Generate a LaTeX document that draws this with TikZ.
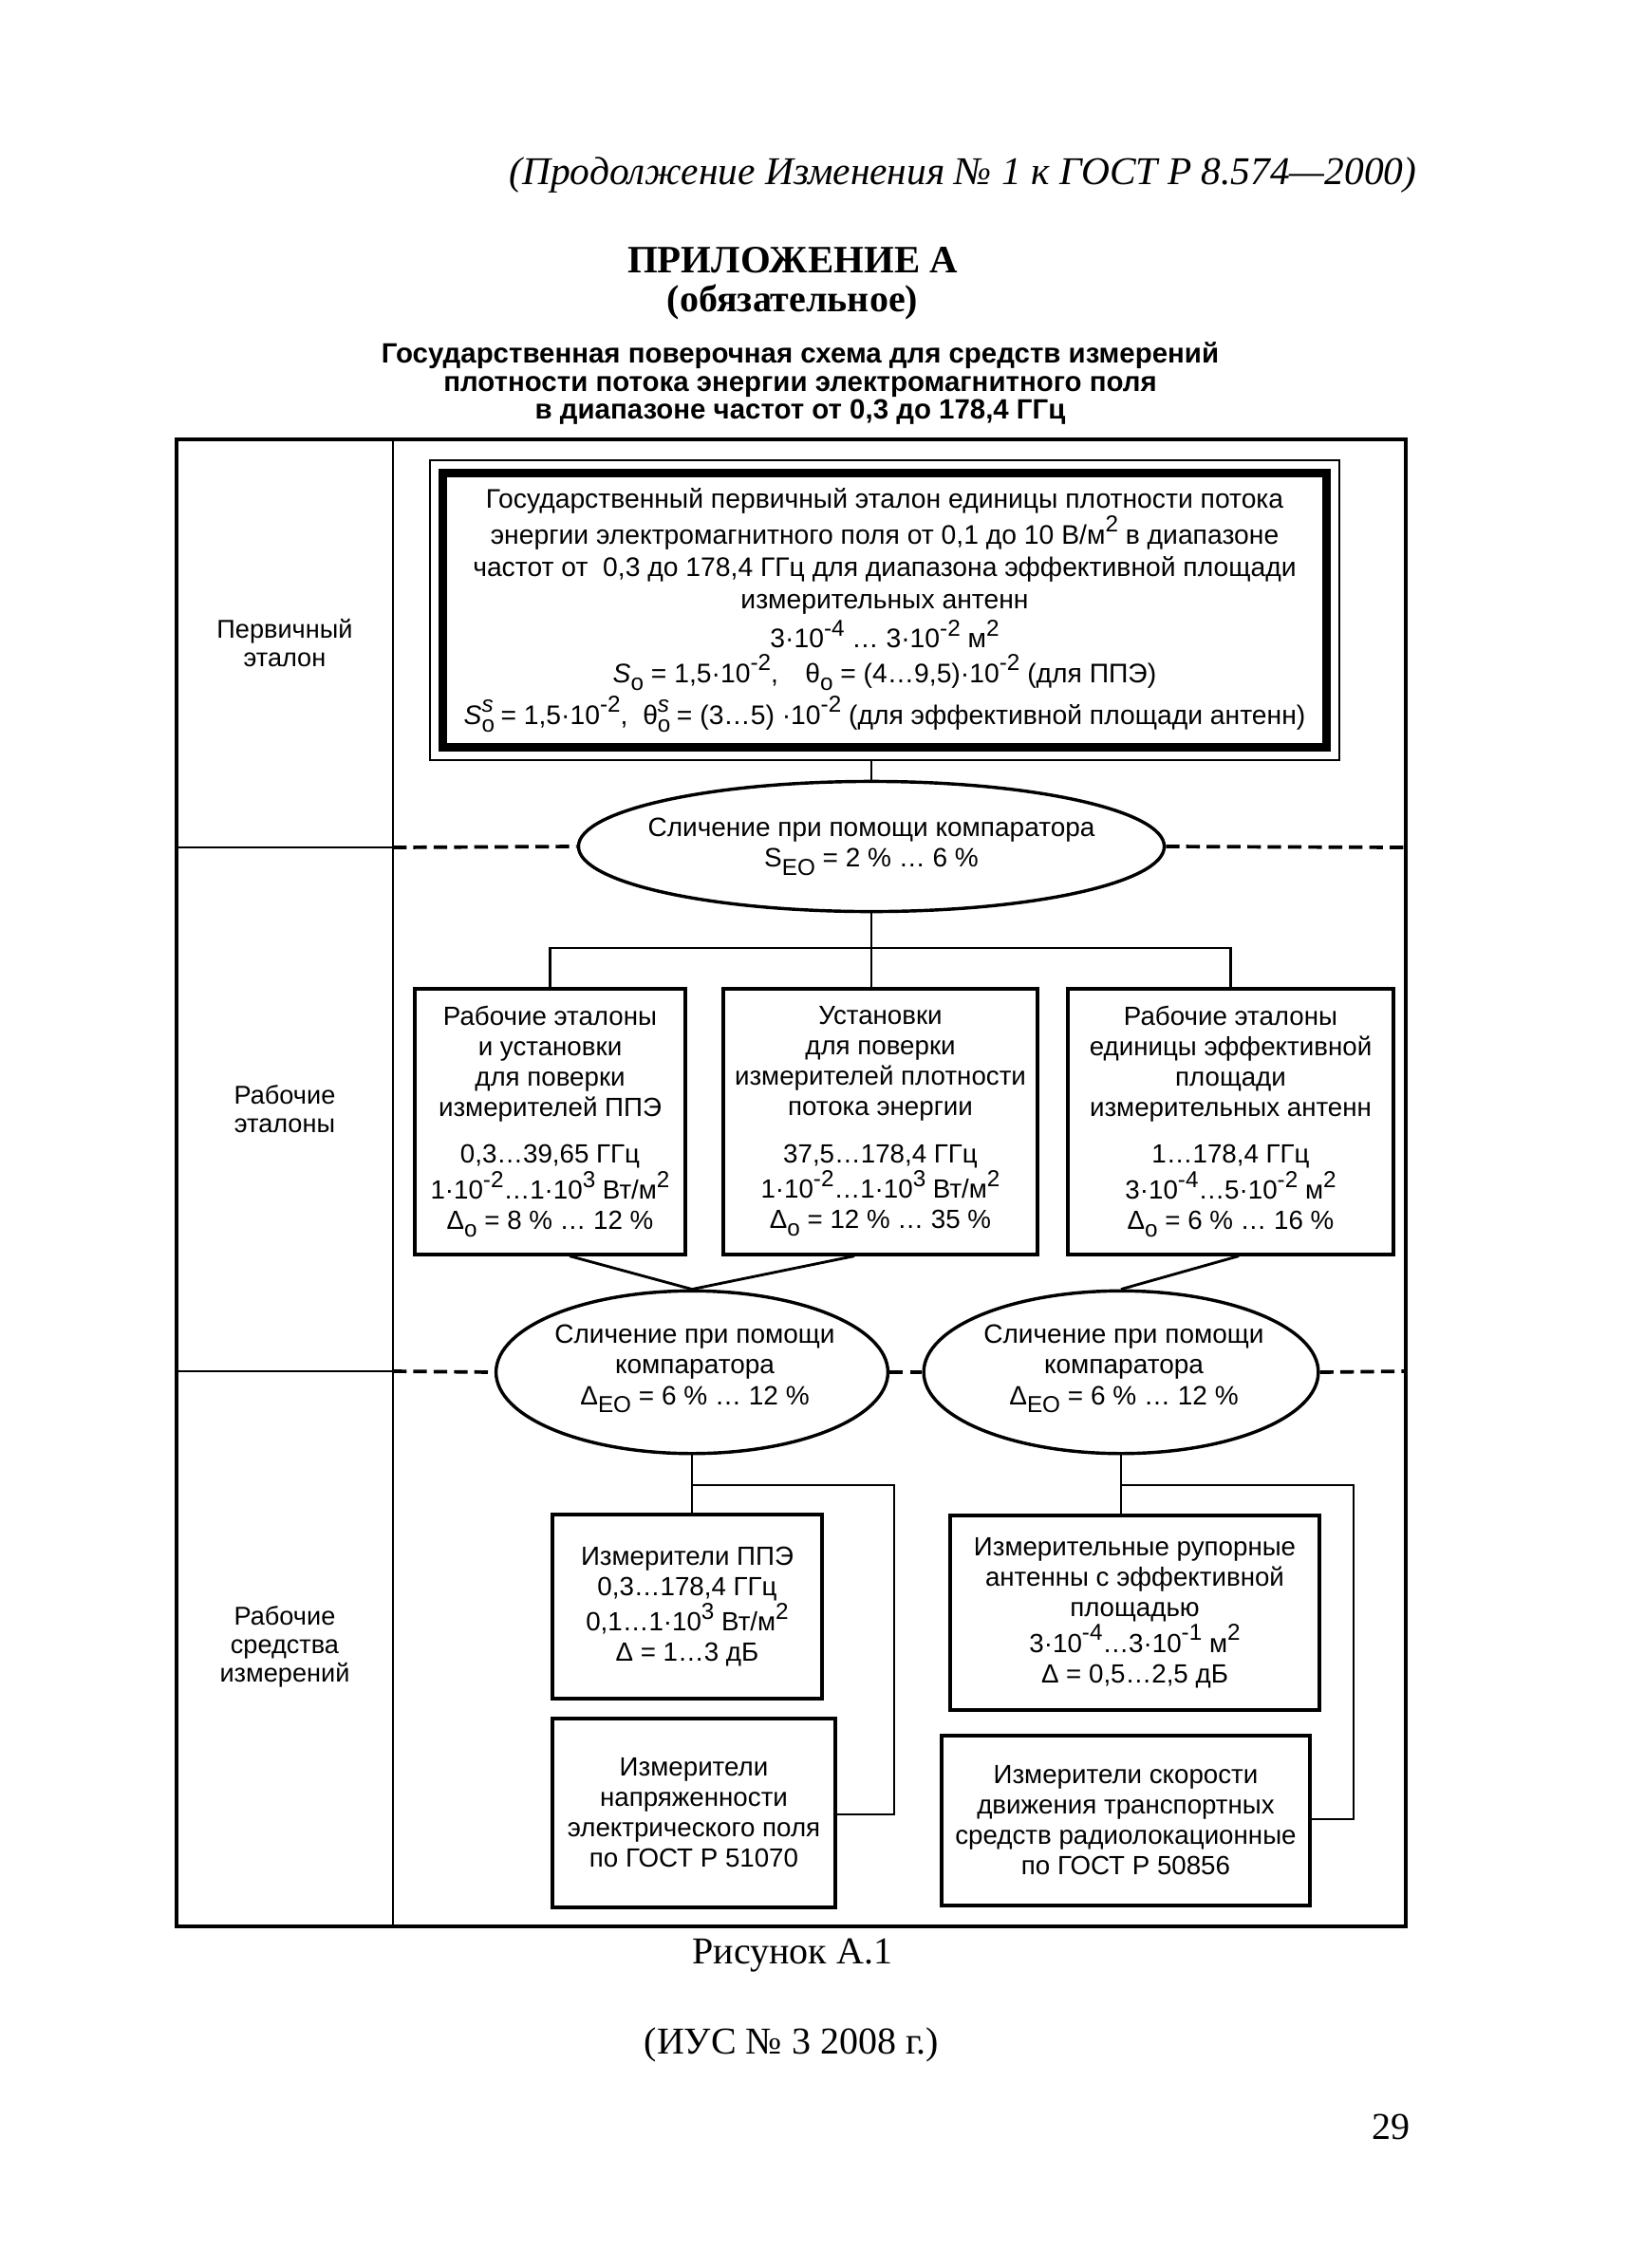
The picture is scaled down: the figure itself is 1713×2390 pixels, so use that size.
\documentclass[tikz,border=0pt]{standalone}
\usepackage{fontspec}
\setmainfont{Liberation Serif}
\setsansfont{Liberation Sans}
\usetikzlibrary{shapes.geometric,calc}

\newcommand\supr[1]{\raisebox{0.85ex}{\fontsize{8.5}{9}\selectfont #1}}
\newcommand\subr[1]{\raisebox{-0.55ex}{\fontsize{8.5}{9}\selectfont #1}}
\newcommand\subsupr[2]{\rlap{\subr{#1}}\supr{#2}}
\newcommand\bxfont{\sffamily\fontsize{9.7}{11.2}\selectfont}

\begin{document}
\begin{tikzpicture}[x=0.35pt,y=-0.35pt,
  box/.style={draw,line width=1.1pt,rectangle,inner sep=0pt,align=center,font=\bxfont},
  oval/.style={draw,line width=1.2pt,ellipse,inner sep=0pt},
  ovaltext/.style={align=center,inner sep=0pt,font=\sffamily\fontsize{9.8}{11.4}\selectfont},
  conn/.style={line width=1pt},
  dashsep/.style={line width=1.3pt,dash pattern=on 5pt off 2.5pt},
  solsep/.style={line width=0.9pt},
  frame/.style={line width=1.4pt},
  lbl/.style={align=center,font=\sffamily\fontsize{9.5}{10.5}\selectfont,inner sep=0pt},
  sertext/.style={font=\fontsize{14}{16}\selectfont,inner sep=0pt}]

\useasboundingbox (0,0) rectangle (1713,2390);

% heading texts
\node[sertext,font=\fontsize{14.5}{16}\selectfont,anchor=east] (hdr) at (1493,185) {\itshape (Продолжение Изменения № 1 к ГОСТ Р 8.574—2000)};
\node[sertext,font=\fontsize{14.3}{16}\selectfont] (ttl) at (835,274) {\bfseries ПРИЛОЖЕНИЕ А};
\node[sertext] (obl) at (835,318) {\bfseries (обязательное)};
\node[align=center,inner sep=0pt,font=\sffamily\bfseries\fontsize{10.3}{10.3}\selectfont] (sub) at (843,404)
  {Государственная поверочная схема для средств измерений\\
   плотности потока энергии электромагнитного поля\\
   в диапазоне частот от 0,3 до 178,4 ГГц};

% frame
\coordinate (fTL) at (186,463);
\coordinate (fBR) at (1481,2030);
\coordinate (cT) at (414,463);
\coordinate (cB) at (414,2030);
\draw[frame] (fTL) rectangle (fBR);
\draw[solsep] (cT) -- (cB);

\coordinate (d1L) at (186,893);
\coordinate (d1M) at (414,893);
\coordinate (d1R) at (1481,893);
\coordinate (d2L) at (186,1445);
\coordinate (d2M) at (414,1445);
\coordinate (d2R) at (1481,1445);

% left column labels
\node[lbl] (l1) at (300,678) {Первичный\\эталон};
\node[lbl] (l2) at (300,1169) {Рабочие\\эталоны};
\node[lbl] (l3) at (300,1735) {Рабочие\\средства\\измерений};

% primary standard
\node[box,line width=1pt,minimum width=335.3pt,minimum height=110.6pt,
      font=\sffamily\fontsize{9.9}{11.9}\selectfont] (P) at (932,643)
  {Государственный первичный эталон единицы плотности потока\\
   энергии электромагнитного поля от 0,1 до 10 В/м\supr{2} в диапазоне\\
   частот от \ 0,3 до 178,4 ГГц для диапазона эффективной площади\\
   измерительных антенн\\[1pt]
   3·10\supr{-4} … 3·10\supr{-2} м\supr{2}\\[1pt]
   {\itshape S}\subr{о} = 1,5·10\supr{-2},\quad θ\subr{о} = (4…9,5)·10\supr{-2} (для ППЭ)\\[1pt]
   {\itshape S}\subsupr{о}{\itshape s} = 1,5·10\supr{-2}, \ θ\subsupr{о}{\itshape s} = (3…5) ·10\supr{-2} (для эффективной площади антенн)};
\draw[line width=3.2pt] ([xshift=5.1pt,yshift=-5.1pt]P.north west) rectangle ([xshift=-5.1pt,yshift=5.1pt]P.south east);

% first comparator
\node[oval,minimum width=216pt,minimum height=48pt] (E1) at (918,892) {};
\node[ovaltext] (E1t) at (E1.center) {Сличение при помощи компаратора\\S\subr{EO} = 2 \% … 6 \%};

% working standards
\node[box,minimum width=99.75pt,minimum height=98pt] (bA) at (579.5,1182)
  {Рабочие эталоны\\и установки\\для поверки\\измерителей ППЭ\\[6pt]
   0,3…39,65 ГГц\\1·10\supr{-2}…1·10\supr{3} Вт/м\supr{2}\\Δ\subr{о} = 8 \% … 12 \%};
\node[box,minimum width=115.85pt,minimum height=98pt] (bB) at (927.5,1182)
  {Установки\\для поверки\\измерителей плотности\\потока энергии\\[6pt]
   37,5…178,4 ГГц\\1·10\supr{-2}…1·10\supr{3} Вт/м\supr{2}\\Δ\subr{о} = 12 \% … 35 \%};
\node[box,minimum width=120.05pt,minimum height=98pt] (bC) at (1296.5,1182)
  {Рабочие эталоны\\единицы эффективной\\площади\\измерительных антенн\\[6pt]
   1…178,4 ГГц\\3·10\supr{-4}…5·10\supr{-2} м\supr{2}\\Δ\subr{о} = 6 \% … 16 \%};

% second-level comparators
\node[oval,minimum width=144.5pt,minimum height=60pt] (E2) at (729,1446) {};
\node[ovaltext] (E2t) at (732,1442) {Сличение при помощи\\компаратора\\Δ\subr{EO} = 6 \% … 12 \%};
\node[oval,minimum width=145.5pt,minimum height=60pt] (E3) at (1181,1446) {};
\node[ovaltext] (E3t) at (1184,1442) {Сличение при помощи\\компаратора\\Δ\subr{EO} = 6 \% … 12 \%};

% working measuring instruments
\node[box,minimum width=99.4pt,minimum height=67.9pt] (bD) at (724,1693)
  {Измерители ППЭ\\0,3…178,4 ГГц\\0,1…1·10\supr{3} Вт/м\supr{2}\\Δ = 1…3 дБ};
\node[box,minimum width=104.3pt,minimum height=69.65pt] (bE) at (731,1910.5)
  {Измерители\\напряженности\\электрического поля\\по ГОСТ Р 51070};
\node[box,minimum width=136.15pt,minimum height=71.75pt] (bF) at (1195.5,1699.5)
  {Измерительные рупорные\\антенны с эффективной\\площадью\\3·10\supr{-4}…3·10\supr{-1} м\supr{2}\\Δ = 0,5…2,5 дБ};
\node[box,minimum width=135.8pt,minimum height=62.65pt] (bG) at (1186,1918.5)
  {Измерители скорости\\движения транспортных\\средств радиолокационные\\по ГОСТ Р 50856};

% level separators
\draw[solsep] (d1L) -- (d1M);
\draw[dashsep] (d1M) -- (E1.west);
\draw[dashsep] (E1.east) -- (d1R);
\draw[solsep] (d2L) -- (d2M);
\draw[dashsep] (d2M) -- (E2.west);
\draw[dashsep] (E2.east) -- (E3.west);
\draw[dashsep] (E3.east) -- (d2R);

% connectors
\coordinate (br1) at (918,999);
\draw[conn] (E1.north) -- (E1.north |- P.south);
\draw[conn] (E1.south) -- (E1.south |- bB.north);
\draw[conn] (bA.north) -- (bA.north |- br1) -- (bC.north |- br1) -- (bC.north);

\draw[conn] ([xshift=7.2pt]bA.south) -- (E2.north);
\draw[conn] ([xshift=-9.6pt]bB.south) -- (E2.north);
\draw[conn] ([xshift=3pt]bC.south) -- (E3.north);

\coordinate (j1) at (942,1565);
\coordinate (j2) at (942,1912);
\draw[conn] (E2.south) -- (E2.south |- bD.north);
\draw[conn] (E2.south |- j1) -- (j1) -- (j2) -- (j2 -| bE.east);

\coordinate (k1) at (1426,1565);
\coordinate (k2) at (1426,1917);
\draw[conn] (E3.south) -- (E3.south |- bF.north);
\draw[conn] (E3.south |- k1) -- (k1) -- (k2) -- (k2 -| bG.east);

% captions
\node[sertext] (fig) at (835,2061) {Рисунок А.1};
\node[sertext] (ius) at (834,2155) {(ИУС № 3 2008 г.)};
\node[sertext,anchor=east] (pg) at (1486,2241) {29};
\end{tikzpicture}
\end{document}
